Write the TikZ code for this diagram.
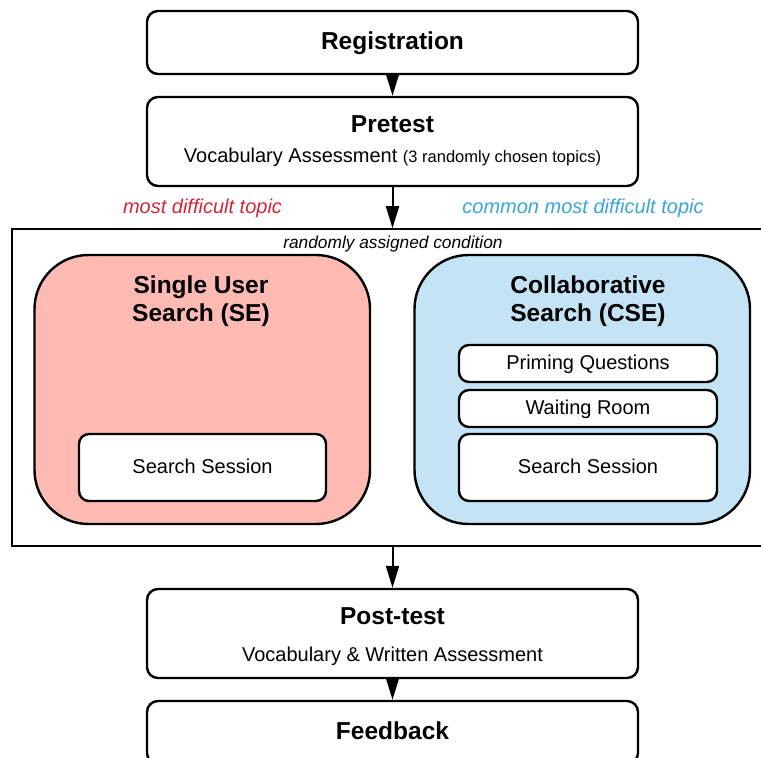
\documentclass[tikz,border=0pt]{standalone}
\usepackage{fontspec}
\setmainfont{Liberation Sans}
\usepackage{xcolor}
\usepackage{tikz}
\usetikzlibrary{arrows.meta,positioning}
\definecolor{ink}{HTML}{000000}
\definecolor{sepink}{HTML}{FFBBB3}
\definecolor{cseblue}{HTML}{C4E3F4}
\definecolor{topicred}{HTML}{D1273A}
\definecolor{topicblue}{HTML}{3BA3DE}
\tikzset{
  >={Triangle[length=22pt,width=13pt]},
  flow/.style={->,line width=2pt,draw=ink},
  stage/.style={draw=ink,line width=2.4pt,rounded corners=11pt,minimum width=491pt,
                inner sep=0pt,font=\fontsize{24.5}{29}\selectfont\bfseries,
                text height=18pt,text depth=5pt},
  condbox/.style={draw=ink,line width=1.6pt,minimum width=761pt,minimum height=317pt},
  branch/.style={draw=ink,line width=2.4pt,rounded corners=54pt,minimum width=335.5pt,
                 minimum height=269pt},
  part/.style={draw=ink,line width=2.4pt,rounded corners=10pt,fill=white,inner sep=0pt,
               minimum width=258pt,font=\fontsize{20}{24}\selectfont,
               text height=14pt,text depth=3pt},
  headtext/.style={anchor=base,inner sep=0pt,align=center,
                   font=\fontsize{24.5}{28}\selectfont\bfseries},
  subtext/.style={anchor=base,inner sep=0pt,font=\fontsize{20}{24}\selectfont},
  topic/.style={anchor=base,inner sep=0pt,font=\fontsize{20}{24}\selectfont\itshape}
}

\begin{document}
\begin{tikzpicture}[x=1pt,y=-1pt]
  \useasboundingbox (0,0) rectangle (761,758);
  \clip (0,0) rectangle (761,758);

  % Stages before the search
  \node[stage,minimum height=63pt] (reg) at (392.5,42.5) {Registration};
  \node[stage,minimum height=89pt] (pre) at (392.5,141.5) {};
  \node[headtext] (pretitle) at (392.5,132) {Pretest};
  \node[subtext] (presub) at (392.5,162)
    {Vocabulary Assessment {\fontsize{16.5}{20}\selectfont(3 randomly chosen topics)}};

  \node[topic,text=topicred] (hardtopic) at (202.5,213) {most difficult topic};
  \node[topic,text=topicblue] (commontopic) at (583,213) {common most difficult topic};

  % Condition frame
  \node[condbox] (cond) at (392.5,387.5) {};
  \node[topic,font=\fontsize{17.3}{20}\selectfont\itshape] (condlabel) at (393,248)
    {randomly assigned condition};

  \node[branch,fill=sepink] (se) at (202.25,389.5) {};
  \node[headtext] (setitle) at (201,321) {Single User\\Search (SE)};
  \node[part,minimum height=67pt,minimum width=247pt] (sesearch) at (202.5,467.5) {Search Session};

  \node[branch,fill=cseblue] (cse) at (582.25,389.5) {};
  \node[headtext] (csetitle) at (588,321) {Collaborative\\Search (CSE)};
  \node[part,minimum height=37pt] (priming) at (588,363.5) {Priming Questions};
  \node[part,minimum height=37pt] (waiting) at (588,408.5) {Waiting Room};
  \node[part,minimum height=67pt] (csesearch) at (588,467.5) {Search Session};

  % Stages after the search
  \node[stage,minimum height=89pt] (post) at (392.5,633.5) {};
  \node[headtext] (posttitle) at (392.5,624) {Post-test};
  \node[subtext] (postsub) at (392.5,661) {Vocabulary \& Written Assessment};
  \node[stage,minimum height=63pt] (fb) at (392.5,732.5) {Feedback};

  \draw[flow] (reg) -- (pre);
  \draw[flow] (pre) -- (cond);
  \draw[flow] (cond) -- (post);
  \draw[flow] (post) -- (fb);
\end{tikzpicture}
\end{document}
